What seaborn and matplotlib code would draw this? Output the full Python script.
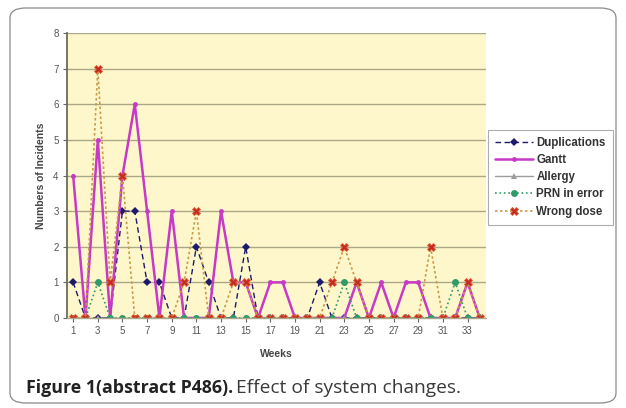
import numpy as np
import matplotlib
matplotlib.use("Agg")
import matplotlib.pyplot as plt
import pandas as pd
import seaborn as sns
from matplotlib.patches import FancyBboxPatch

# data
weeks = list(range(1, 35))
duplications = [1, 0, 0, 0, 3, 3, 1, 1, 0, 0, 2, 1, 0, 0, 2, 0, 0,
                0, 0, 0, 1, 0, 0, 0, 0, 0, 0, 0, 0, 0, 0, 0, 0, 0]
gantt = [4, 0, 5, 0, 4, 6, 3, 0, 3, 0, 0, 0, 3, 1, 1, 0, 1,
         1, 0, 0, 0, 0, 0, 1, 0, 1, 0, 1, 1, 0, 0, 0, 1, 0]
allergy = [0] * 34
prn_in_error = [0, 0, 1, 0, 0, 0, 0, 0, 0, 0, 0, 0, 0, 0, 0, 0, 0,
                0, 0, 0, 0, 0, 1, 0, 0, 0, 0, 0, 0, 0, 0, 1, 0, 0]
wrong_dose = [0, 0, 7, 1, 4, 0, 0, 0, 0, 1, 3, 0, 0, 1, 1, 0, 0,
              0, 0, 0, 0, 1, 2, 1, 0, 0, 0, 0, 0, 2, 0, 0, 1, 0]
y_ticks = list(range(0, 9))
x_tick_labels = list(range(1, 35, 2))

sns.set_theme(style="white")
plt.rcParams['font.family'] = ['Liberation Sans', 'DejaVu Sans']

fig = plt.figure(figsize=(6.26, 4.08), dpi=100)
W, H = 626, 408

# rounded frame around chart + caption
frame = FancyBboxPatch((10 / W, 5 / H), 606 / W, 395 / H,
                       boxstyle="round,pad=0,rounding_size=0.025",
                       transform=fig.transFigure, fill=False,
                       edgecolor='#8a8a8a', linewidth=0.9)
fig.patches.append(frame)

ax = fig.add_axes([67 / W, 1 - 318 / H, (486 - 67) / W, (318 - 33) / H])
ax.set_facecolor('#fff7cc')

series = [
    ("Duplications", duplications, dict(color='#1c1a6b', marker='D', markersize=4.5,
                                       linestyle=(0, (4, 2.5)), linewidth=1.0)),
    ("Gantt", gantt, dict(color='#c63ac6', marker='o', markersize=3.5,
                         linestyle='-', linewidth=1.8)),
    ("Allergy", allergy, dict(color='#9c9c9c', marker='^', markersize=4.5,
                             linestyle='-', linewidth=1.0)),
    ("PRN in error", prn_in_error, dict(color='#2f9a6a', marker='o', markersize=5,
                                       linestyle=':', linewidth=1.2)),
]
for name, vals, kw in series:
    sns.lineplot(x=weeks, y=vals, ax=ax, label=name, markeredgewidth=0, **kw)

sns.lineplot(x=weeks, y=wrong_dose, ax=ax, label="Wrong dose", color='#c89a48',
             linestyle=(0, (1.5, 1.5)), linewidth=1.2, marker='X', markersize=6,
             markerfacecolor='#c42a20', markeredgecolor='#e0603a', markeredgewidth=0.6)

ax.set_xlim(0.5, 34.5)
ax.set_ylim(0, 8)
ax.set_yticks(y_ticks)
ax.set_xticks(x_tick_labels)
ax.tick_params(axis='both', labelsize=7, colors='#555555', length=3, width=0.8,
               direction='out', pad=3)
ax.tick_params(axis='y', left=True, color='#666666')
ax.tick_params(axis='x', bottom=True, color='#666666')
for t in ax.get_xticklabels() + ax.get_yticklabels():
    t.set_color('#555555')
ax.grid(axis='y', color='#aba887', linewidth=1.0)
ax.set_axisbelow(True)
for s in ['top', 'right']:
    ax.spines[s].set_visible(False)
ax.spines['left'].set_color('#6b6b5a')
ax.spines['left'].set_linewidth(1.3)
ax.spines['bottom'].set_color('#aba887')
ax.spines['bottom'].set_linewidth(1.0)

ax.set_xlabel("Weeks", fontsize=7.5, fontweight='bold', color='#444444', labelpad=9)
ax.set_ylabel("Numbers of Incidents", fontsize=7.5, fontweight='bold', color='#444444',
              labelpad=5)

leg = ax.legend(loc='upper left', bbox_to_anchor=(488 / W, 1 - 130 / H),
                bbox_transform=fig.transFigure, frameon=True, fancybox=False,
                fontsize=8.3, handlelength=3.3, labelspacing=0.45,
                borderpad=0.6, handletextpad=0.3, borderaxespad=0)
leg.get_frame().set_edgecolor('#999999')
leg.get_frame().set_linewidth(0.8)
for t in leg.get_texts():
    t.set_fontweight('bold')
    t.set_color('#333333')

# caption: bold lead + regular text
cap_font = ['Open Sans', 'DejaVu Sans']
t1 = fig.text(26 / W, 1 - 393 / H, "Figure 1(abstract P486).", fontsize=12.8,
              fontweight='bold', family=cap_font, color='#222222', va='baseline')
fig.canvas.draw()
bb = t1.get_window_extent(renderer=fig.canvas.get_renderer())
fig.text(bb.x1 / W + 3 / W, 1 - 393 / H, "Effect of system changes.", fontsize=13.8,
         family=cap_font, color='#3a3a3a', va='baseline')

fig.savefig("out.png", dpi=100, facecolor='white')
